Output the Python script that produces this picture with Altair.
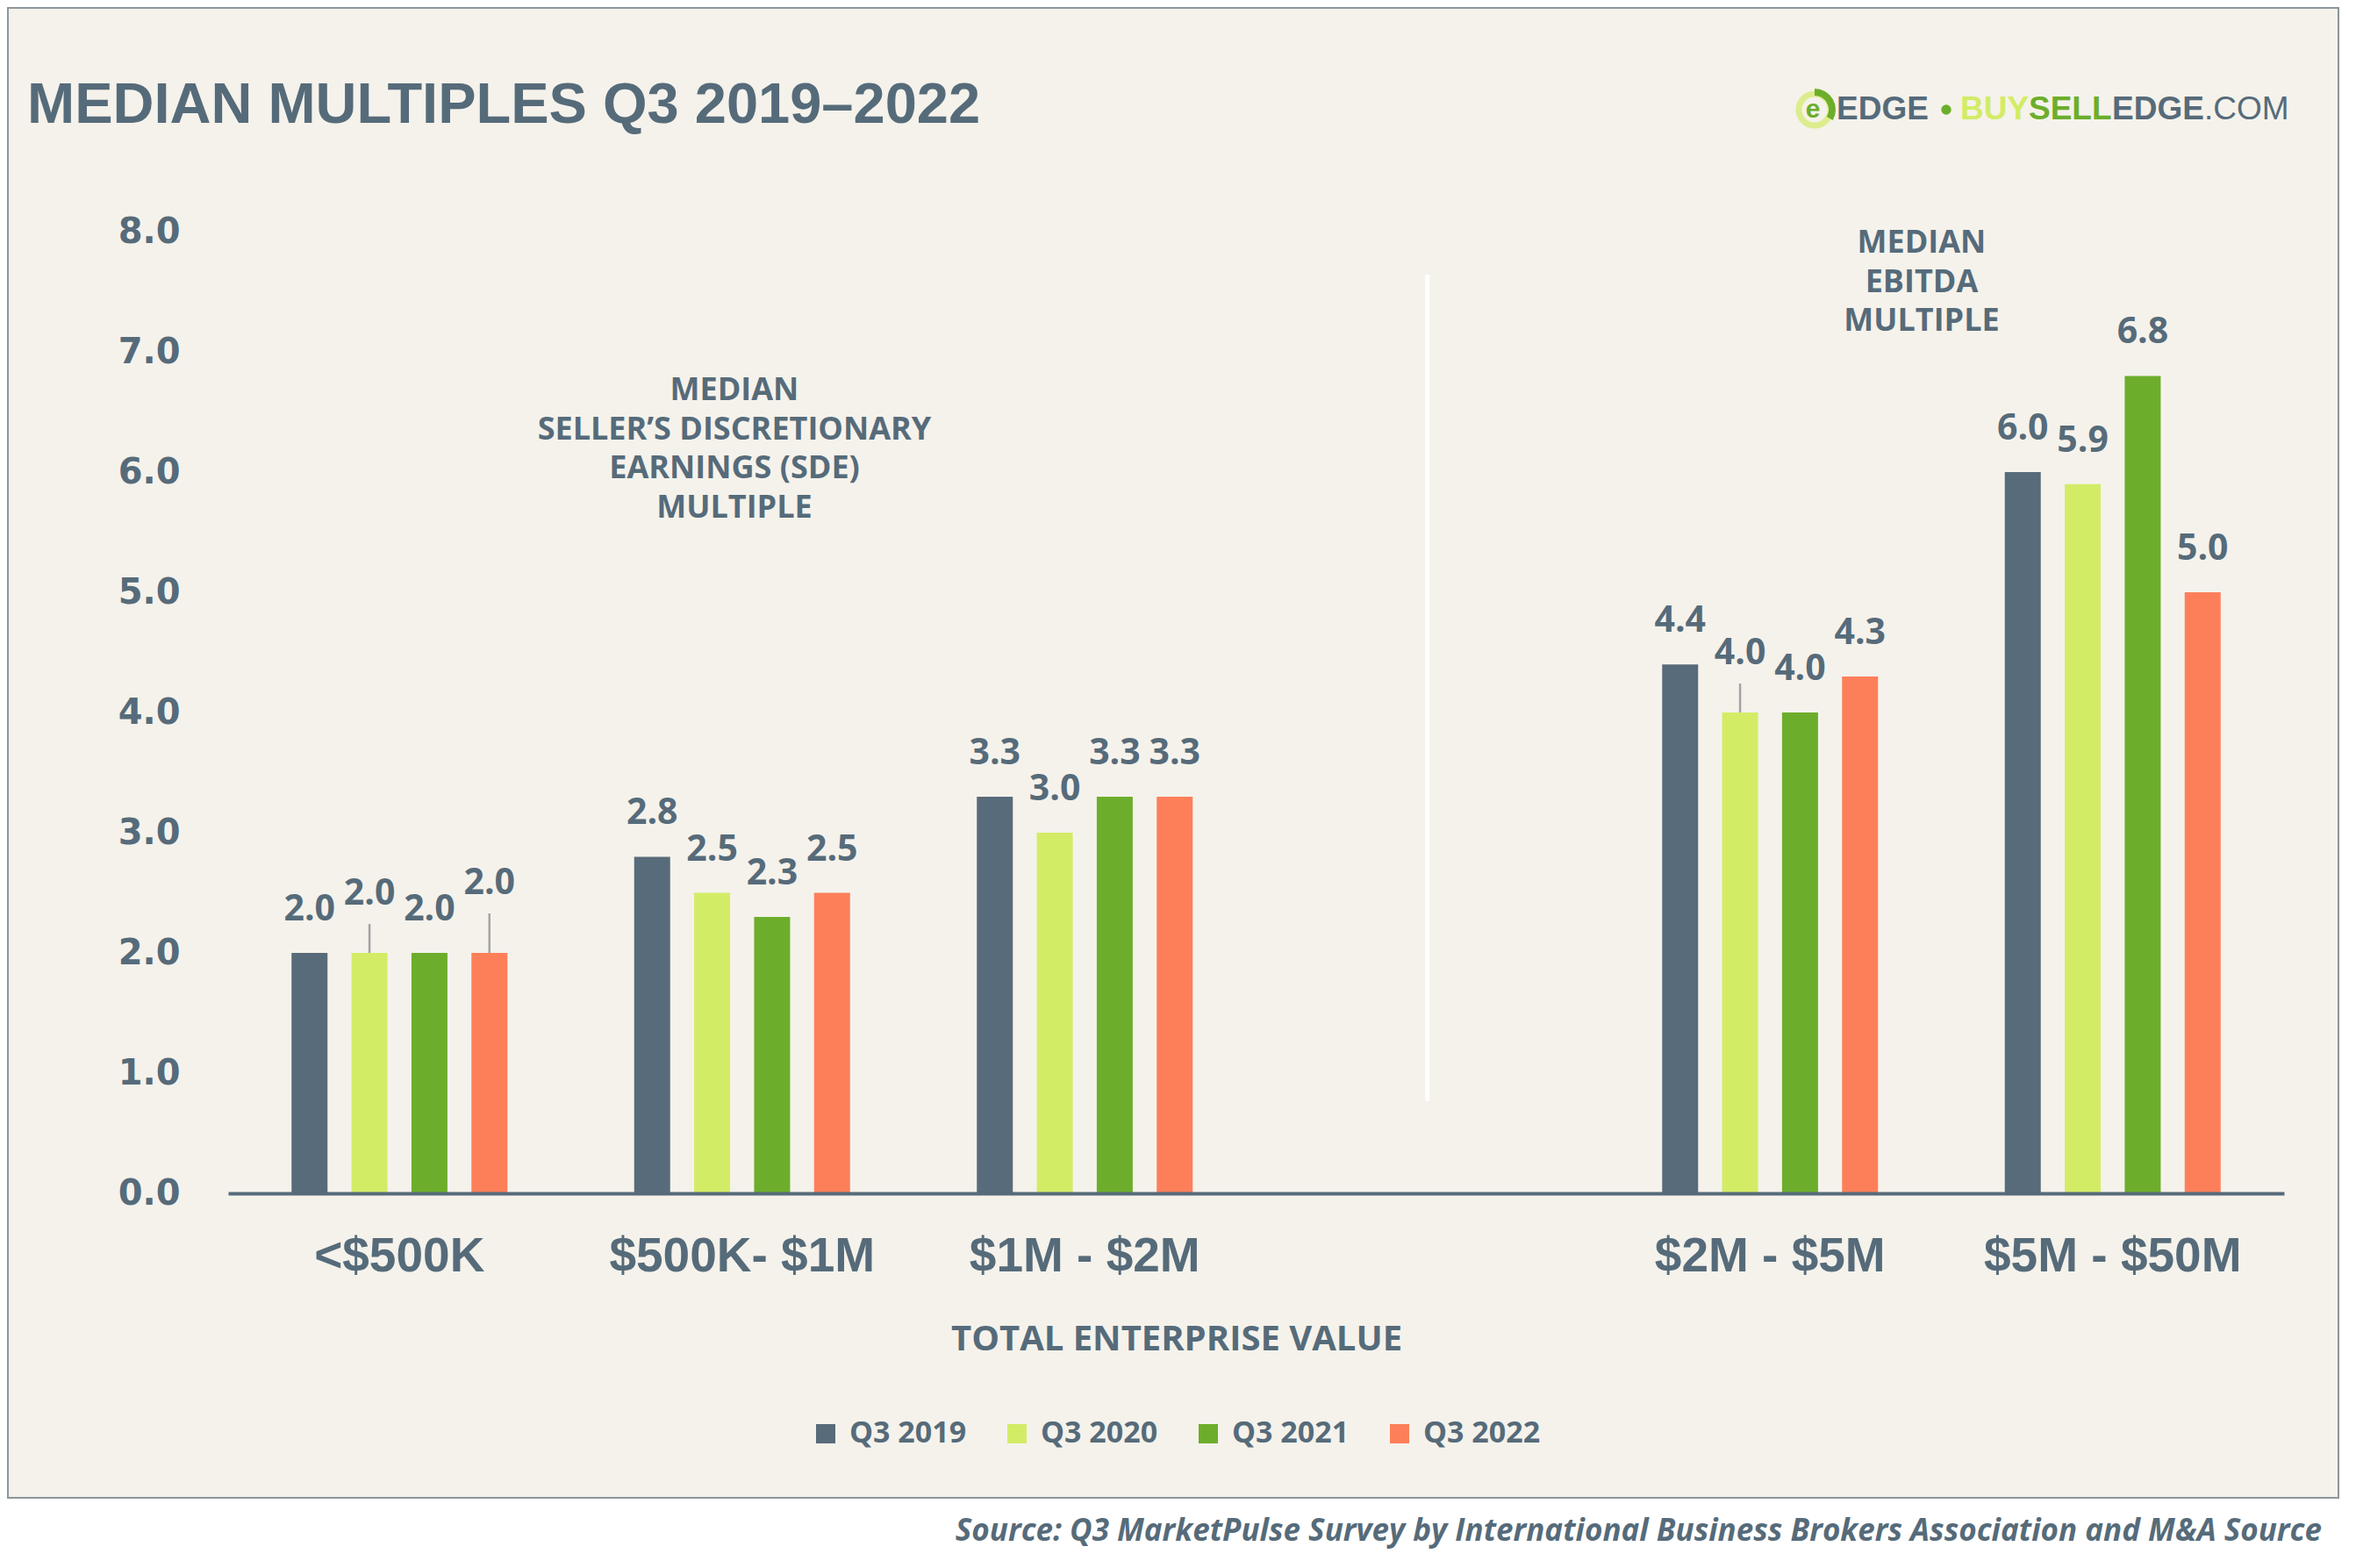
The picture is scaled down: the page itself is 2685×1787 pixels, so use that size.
import altair as alt
import pandas as pd

# ---------------- data ----------------
categories = ["<$500K", "$500K- $1M", "$1M - $2M", "$2M - $5M", "$5M - $50M"]
x_slots = ["<$500K", "$500K- $1M", "$1M - $2M", " ", "$2M - $5M", "$5M - $50M"]
series = ["Q3 2019", "Q3 2020", "Q3 2021", "Q3 2022"]
q3_2019 = [2.0, 2.8, 3.3, 4.4, 6.0]
q3_2020 = [2.0, 2.5, 3.0, 4.0, 5.9]
q3_2021 = [2.0, 2.3, 3.3, 4.0, 6.8]
q3_2022 = [2.0, 2.5, 3.3, 4.3, 5.0]
y_ticks = [0, 1, 2, 3, 4, 5, 6, 7, 8]

# ---------------- style / layout ----------------
SLATE = "#566B7A"
colors = ["#586B7A", "#D3EC66", "#6CAE2B", "#FD7F5A"]
BEIGE = "#F5F2EB"
W, H = 2343, 1096
PX = H / 8.0  # pixels per unit

# labels lifted above default with a leader line (pixels above bar top)
DEFAULT_LIFT = 49
raised = {("<$500K", "Q3 2020"): 67, ("<$500K", "Q3 2022"): 79, ("$2M - $5M", "Q3 2020"): 67}

rows = []
for s, vals in zip(series, [q3_2019, q3_2020, q3_2021, q3_2022]):
    for c, v in zip(categories, vals):
        lift = raised.get((c, s), DEFAULT_LIFT)
        rows.append({
            "cat": c, "series": s, "value": v,
            "label_y": v + lift / PX,
            "lead_top": v + max(lift - 34, 0) / PX,
            "lead": lift > DEFAULT_LIFT,
        })
df = pd.DataFrame(rows)
lead_df = df[df["lead"]]
dummy = pd.DataFrame({"k": [0]})
divider = pd.DataFrame({"cat": [" "], "y0": [(1360 - 1255) / PX], "y1": [(1360 - 313) / PX]})

x_scale = alt.Scale(domain=x_slots, paddingInner=0.3, paddingOuter=0.15)
x_axis = alt.Axis(title=None, labelAngle=0, domain=True, domainColor=SLATE, domainWidth=4,
                  ticks=False, labelFont="Liberation Sans", labelFontWeight="bold",
                  labelFontSize=55, labelColor=SLATE, labelPadding=45, labelLimit=0,
                  grid=False, zindex=1)
y_scale = alt.Scale(domain=[0, 8], nice=False, zero=True)
y_axis = alt.Axis(title=None, values=y_ticks, format=".1f", domain=False, ticks=False, grid=False,
                  labelFont="DejaVu Sans", labelFontWeight="bold", labelFontSize=40,
                  labelColor=SLATE, labelPadding=55, zindex=1)
off_scale = alt.Scale(domain=series, paddingInner=0.4, paddingOuter=0.2)

X = alt.X("cat:N", scale=x_scale, axis=x_axis)
XO = alt.XOffset("series:N", scale=off_scale)

frame = alt.Chart(dummy).mark_rect(fill=BEIGE, stroke="#8C969C", strokeWidth=2).encode(
    x=alt.value(-251), x2=alt.value(2405), y=alt.value(-255), y2=alt.value(1443))

div_rule = alt.Chart(divider).mark_rule(color="#FFFFFF", strokeWidth=5).encode(
    x=X, y=alt.Y("y0:Q", scale=y_scale, axis=y_axis), y2="y1:Q")

bars = alt.Chart(df).mark_bar().encode(
    x=X, xOffset=XO,
    y=alt.Y("value:Q", scale=y_scale, axis=y_axis),
    color=alt.Color("series:N", scale=alt.Scale(domain=series, range=colors),
                    legend=alt.Legend(title=None, orient="none", legendX=664, legendY=1353,
                                      direction="horizontal", symbolType="square", symbolSize=484,
                                      symbolStrokeWidth=0, labelFont="Open Sans",
                                      labelFontWeight="bold", labelFontSize=34, labelColor=SLATE,
                                      labelOffset=10, columnPadding=40, padding=0, zindex=1)),
)

leaders = alt.Chart(lead_df).mark_rule(color="#A3A3A3", strokeWidth=2.5).encode(
    x=X, xOffset=XO, y=alt.Y("value:Q", scale=y_scale, axis=y_axis), y2="lead_top:Q")

labels = alt.Chart(df).mark_text(font="Open Sans", fontWeight="bold", fontSize=41, color=SLATE,
                                 baseline="middle", align="center").encode(
    x=X, xOffset=XO, y=alt.Y("label_y:Q", scale=y_scale, axis=y_axis),
    text=alt.Text("value:Q", format=".1f"))


def txt(s, x, y, **kw):
    return alt.Chart(dummy).mark_text(**kw).encode(x=alt.value(x), y=alt.value(y), text=alt.value(s))


title = txt("MEDIAN MULTIPLES Q3 2019–2022", -229, -144, font="Liberation Sans",
            fontWeight="bold", fontSize=65, color=SLATE, align="left", baseline="middle")

sde = alt.Chart(dummy).mark_text(font="Open Sans", fontWeight="bold", fontSize=36, color=SLATE,
                                 align="center", baseline="alphabetic", lineHeight=44.5).encode(
    x=alt.value(577), y=alt.value(192),
    text=alt.value(["MEDIAN", "SELLER’S DISCRETIONARY", "EARNINGS (SDE)", "MULTIPLE"]))
ebitda = alt.Chart(dummy).mark_text(font="Open Sans", fontWeight="bold", fontSize=36, color=SLATE,
                                    align="center", baseline="alphabetic", lineHeight=44.5).encode(
    x=alt.value(1930), y=alt.value(24),
    text=alt.value(["MEDIAN", "EBITDA", "MULTIPLE"]))

xtitle = txt("TOTAL ENTERPRISE VALUE", 1081, 1263, font="Open Sans", fontWeight="bold",
             fontSize=40, color=SLATE, align="center", baseline="middle")

source = txt("Source: Q3 MarketPulse Survey by International Business Brokers Association and M&A Source",
             2386, 1481, font="Open Sans", fontWeight="bold", fontStyle="italic", fontSize=35,
             color=SLATE, align="right", baseline="middle")

# logo
LY = -139
LF = 37
ring = alt.Chart(dummy).mark_point(shape="circle", filled=False, stroke="#D3EC66", strokeWidth=7,
                                   size=1300).encode(x=alt.value(1808), y=alt.value(LY))
arc = alt.Chart(dummy).mark_arc(color="#6CAE2B").encode(
    x=alt.value(1808), y=alt.value(LY), theta=alt.value(0.0), theta2=alt.value(2.1),
    radius=alt.value(24), radius2=alt.value(16))
e_letter = txt("e", 1806, LY, font="Liberation Sans", fontWeight="bold", fontSize=30,
               color="#6CAE2B", align="center", baseline="middle")
edge1 = txt("EDGE", 1833, LY, font="Liberation Sans", fontWeight="bold", fontSize=LF,
            color=SLATE, align="left", baseline="middle")
dot = alt.Chart(dummy).mark_point(shape="circle", filled=True, color="#6CAE2B", opacity=1,
                                  size=130).encode(x=alt.value(1958), y=alt.value(LY))
buy = txt("BUY", 1974, LY, font="Liberation Sans", fontWeight="bold", fontSize=LF,
          color="#D3EC66", align="left", baseline="middle")
sell = txt("SELL", 2052, LY, font="Liberation Sans", fontWeight="bold", fontSize=LF,
           color="#6CAE2B", align="left", baseline="middle")
edge2 = txt("EDGE", 2147, LY, font="Liberation Sans", fontWeight="bold", fontSize=LF,
            color=SLATE, align="left", baseline="middle")
com = txt(".COM", 2252, LY, font="Liberation Sans", fontSize=LF, color=SLATE, align="left",
          baseline="middle")

chart = alt.layer(
    frame, div_rule, bars, leaders, labels, title, sde, ebitda, xtitle, source,
    ring, arc, e_letter, edge1, dot, buy, sell, edge2, com,
).resolve_scale(x="shared", y="shared").properties(
    width=W, height=H,
    autosize=alt.AutoSizeParams(type="none"),
    padding={"left": 252, "top": 256, "right": 65, "bottom": 413},
    background="#FFFFFF",
).configure_view(stroke=None)

chart.save("out.html", embed_options={"renderer": "svg", "actions": False})
